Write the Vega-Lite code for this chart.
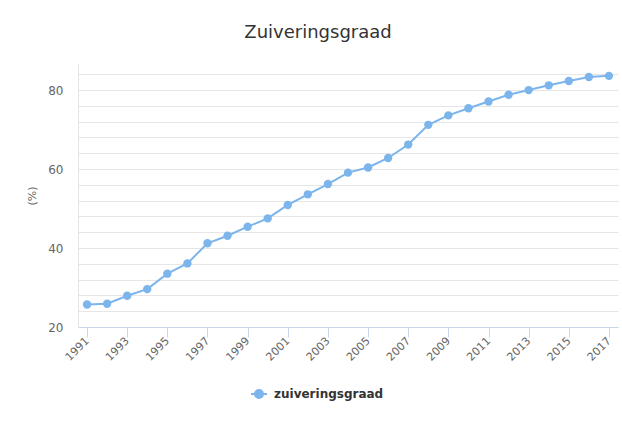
{
  "$schema": "https://vega.github.io/schema/vega-lite/v6.json",
  "width": 540,
  "height": 263,
  "autosize": {"type": "none"},
  "padding": {"left": 78, "top": 64, "right": 4, "bottom": 94},
  "background": "white",
  "config": {"view": {"stroke": null}, "font": "DejaVu Sans"},
  "title": {"text": "Zuiveringsgraad", "fontSize": 18, "font": "DejaVu Sans", "fontWeight": "normal", "color": "#333333", "anchor": "middle", "dx": -30, "offset": 22},
  "data": {"values": [
    {"jaar": 1991, "zuiveringsgraad": 25.7},
    {"jaar": 1992, "zuiveringsgraad": 25.9},
    {"jaar": 1993, "zuiveringsgraad": 27.9},
    {"jaar": 1994, "zuiveringsgraad": 29.6},
    {"jaar": 1995, "zuiveringsgraad": 33.5},
    {"jaar": 1996, "zuiveringsgraad": 36.1},
    {"jaar": 1997, "zuiveringsgraad": 41.2},
    {"jaar": 1998, "zuiveringsgraad": 43.1},
    {"jaar": 1999, "zuiveringsgraad": 45.4},
    {"jaar": 2000, "zuiveringsgraad": 47.5},
    {"jaar": 2001, "zuiveringsgraad": 50.9},
    {"jaar": 2002, "zuiveringsgraad": 53.6},
    {"jaar": 2003, "zuiveringsgraad": 56.2},
    {"jaar": 2004, "zuiveringsgraad": 59.1},
    {"jaar": 2005, "zuiveringsgraad": 60.4},
    {"jaar": 2006, "zuiveringsgraad": 62.8},
    {"jaar": 2007, "zuiveringsgraad": 66.2},
    {"jaar": 2008, "zuiveringsgraad": 71.2},
    {"jaar": 2009, "zuiveringsgraad": 73.6},
    {"jaar": 2010, "zuiveringsgraad": 75.4},
    {"jaar": 2011, "zuiveringsgraad": 77.1},
    {"jaar": 2012, "zuiveringsgraad": 78.8},
    {"jaar": 2013, "zuiveringsgraad": 80.0},
    {"jaar": 2014, "zuiveringsgraad": 81.2},
    {"jaar": 2015, "zuiveringsgraad": 82.3},
    {"jaar": 2016, "zuiveringsgraad": 83.3},
    {"jaar": 2017, "zuiveringsgraad": 83.6}
  ]},
  "mark": {"type": "line", "strokeWidth": 2, "point": {"size": 70, "filled": true, "opacity": 1}},
  "encoding": {
    "x": {
      "field": "jaar", "type": "quantitative",
      "scale": {"domain": [1990.55, 2017.45], "nice": false, "zero": false},
      "axis": {
        "values": [1991, 1993, 1995, 1997, 1999, 2001, 2003, 2005, 2007, 2009, 2011, 2013, 2015, 2017],
        "format": "d", "labelAngle": -45, "labelAlign": "right", "labelBaseline": "middle",
        "grid": false, "tickSize": 10, "tickColor": "#ccd6eb", "domainColor": "#ccd6eb",
        "labelColor": "#666666", "labelFontSize": 11, "labelPadding": 2, "title": null, "labelFlush": false, "labelOverlap": false
      }
    },
    "y": {
      "field": "zuiveringsgraad", "type": "quantitative",
      "scale": {"domain": [20, 86.6], "nice": false, "zero": false},
      "axis": {
        "values": [20, 24, 28, 32, 36, 40, 44, 48, 52, 56, 60, 64, 68, 72, 76, 80, 84],
        "labelExpr": "datum.value % 20 === 0 ? datum.label : ''",
        "ticks": false, "domain": true, "domainColor": "#e6e6e6", "gridColor": "#e6e6e6",
        "labelPadding": 15, "labelColor": "#666666", "labelFontSize": 12, "labelOverlap": false,
        "title": "(%)", "titleFontWeight": "normal", "titleFontSize": 11, "titleColor": "#666666", "titlePadding": 10
      }
    },
    "color": {
      "datum": "zuiveringsgraad",
      "scale": {"range": ["#7cb5ec"]},
      "legend": {
        "orient": "none", "legendX": 172, "legendY": 321, "title": null,
        "symbolType": "M-1,0L1,0M-0.5,0A0.5,0.5,0,1,1,0.5,0A0.5,0.5,0,1,1,-0.5,0Z",
        "symbolSize": 256, "symbolStrokeWidth": 2, "symbolFillColor": "#7cb5ec", "symbolStrokeColor": "#7cb5ec", "symbolOpacity": 1,
        "labelFontWeight": "bold", "labelFontSize": 12, "labelColor": "#333333", "labelOffset": 6
      }
    }
  }
}
